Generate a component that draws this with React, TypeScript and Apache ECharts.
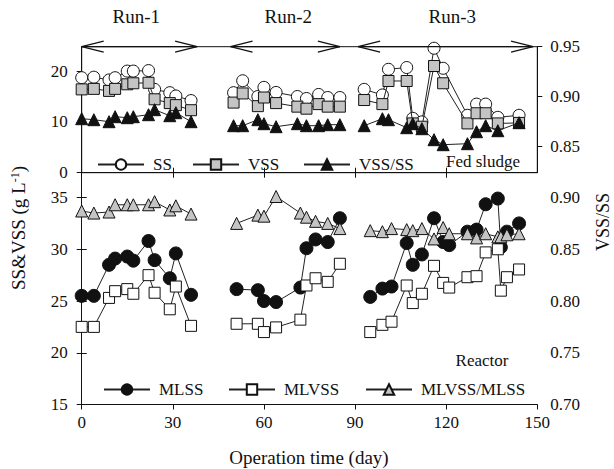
import React, { useEffect, useRef } from 'react';
import * as echarts from 'echarts';

const FONT = 'Liberation Serif';

// Run annotation
const RUN_LABELS = ['Run-1', 'Run-2', 'Run-3'];
const RUN_RANGES = [[0, 38], [49, 85], [91, 148.6]];
const RUN_LABEL_DAYS = [18, 68, 122];

// Fed sludge (top panel), per run
const fedDays = [
  [0, 4, 9, 11, 15, 17, 22, 24, 29, 31, 36],
  [50, 53, 58, 60, 64, 71, 74, 78, 81, 85],
  [93, 99, 101, 107, 109, 112, 116, 119, 127, 130, 133, 137, 144],
];
const ssValues = [
  [18.7, 18.8, 18.25, 18.7, 20.0, 20.0, 20.1, 16.4, 15.75, 15.1, 14.2],
  [15.75, 18.1, 15.0, 16.8, 15.8, 15.0, 14.6, 15.4, 14.8, 14.8],
  [16.4, 15.3, 20.35, 20.7, 10.7, 10.0, 24.5, 20.55, 11.3, 13.5, 13.5, 10.9, 11.3],
];
const vssValues = [
  [16.4, 16.5, 16.1, 16.5, 17.4, 17.6, 17.7, 14.45, 13.7, 13.3, 12.3],
  [13.8, 15.6, 13.1, 14.8, 13.7, 13.0, 12.6, 13.5, 13.0, 13.0],
  [14.3, 13.5, 18.05, 18.05, 9.7, 9.05, 21.0, 17.6, 9.7, 11.7, 11.7, 9.7, 9.8],
];
const fedRatio = [
  [0.878, 0.877, 0.875, 0.88, 0.879, 0.88, 0.882, 0.887, 0.881, 0.884, 0.875],
  [0.871, 0.871, 0.877, 0.873, 0.87, 0.873, 0.871, 0.871, 0.872, 0.872],
  [0.871, 0.878, 0.877, 0.869, 0.873, 0.868, 0.857, 0.852, 0.853, 0.865, 0.871, 0.866, 0.874],
];

// Reactor (bottom panel), per run
const reactorDays = [
  [0, 4, 9, 11, 15, 17, 22, 24, 29, 31, 36],
  [51, 58, 60, 64, 72, 74, 77, 81, 85],
  [95, 99, 102, 107, 109, 112, 116, 119, 121, 127, 130, 133, 137, 138, 140, 144],
];
const mlssValues = [
  [25.5, 25.5, 28.5, 29.1, 29.3, 28.9, 30.8, 28.95, 27.2, 29.6, 25.6],
  [26.15, 26.05, 25.0, 24.9, 26.3, 30.1, 30.95, 30.7, 33.0],
  [25.4, 26.2, 26.4, 30.6, 28.5, 29.5, 33.0, 30.7, 30.4, 31.7, 31.9, 34.35, 34.9, 30.2, 31.7, 32.5],
];
const mlvssValues = [
  [22.5, 22.5, 25.3, 25.95, 26.15, 25.7, 27.5, 25.8, 24.2, 26.4, 22.6],
  [22.8, 22.8, 22.0, 22.45, 23.2, 26.5, 27.2, 26.85, 28.6],
  [22.0, 22.7, 23.0, 26.5, 24.8, 25.7, 28.4, 26.75, 26.3, 27.3, 27.4, 29.7, 30.0, 26.0, 27.3, 28.05],
];
const reactorRatio = [
  [0.887, 0.885, 0.886, 0.893, 0.893, 0.893, 0.893, 0.896, 0.888, 0.892, 0.884],
  [0.875, 0.883, 0.882, 0.901, 0.885, 0.881, 0.877, 0.875, 0.87],
  [0.868, 0.867, 0.87, 0.869, 0.868, 0.87, 0.86, 0.871, 0.865, 0.865, 0.861, 0.865, 0.862, 0.862, 0.864, 0.865],
];

// Tick values
const xTicks = [0, 30, 60, 90, 120, 150];
const xInnerTicks = [30, 60, 90, 120];
const topLeftTicks = [0, 10, 20];
const topRightTicks = [0.85, 0.9, 0.95];
const botLeftTicks = [15, 20, 25, 30, 35];
const botRightTicks = [0.7, 0.75, 0.8, 0.85, 0.9];

const INK = '#111';
const GRAY = '#c4c4c4';

function runSeries(
  name: string,
  days: number[][],
  vals: number[][],
  xAxisIndex: number,
  yAxisIndex: number,
  symbol: string,
  size: number,
  fill: string,
  z: number
) {
  return days.map((d, r) => ({
    name,
    type: 'line',
    xAxisIndex,
    yAxisIndex,
    data: d.map((x, i) => [x, vals[r][i]]),
    symbol,
    symbolSize: size,
    showSymbol: true,
    z,
    lineStyle: { color: '#222', width: 1 },
    itemStyle: { color: fill, borderColor: INK, borderWidth: 1 },
    emphasis: { disabled: true },
  }));
}

function legendItem(name: string, left: number, top: number) {
  return {
    data: [name],
    left,
    top,
    itemWidth: 46,
    itemHeight: 13,
    selectedMode: false,
    textStyle: { fontFamily: FONT, fontSize: 17, color: INK, padding: [0, 0, 0, 4] },
  };
}

const axisCommon = {
  axisLine: { show: true, lineStyle: { color: INK, width: 1 } },
  splitLine: { show: false },
};

export default function App() {
  const ref = useRef<HTMLDivElement>(null);

  useEffect(() => {
    if (!ref.current) return;
    const chart = echarts.init(ref.current, undefined, { renderer: 'svg' });

    const labelStyle = { fontFamily: FONT, fontSize: 17, color: INK };

    const option: any = {
      animation: false,
      backgroundColor: '#fff',
      grid: [
        { left: 81.7, right: 76.7, top: 46.7, height: 126, show: true, borderColor: INK, borderWidth: 1, backgroundColor: 'transparent' },
        { left: 81.7, right: 76.7, top: 172.7, height: 231.8 },
      ],
      xAxis: [
        {
          ...axisCommon, type: 'value', gridIndex: 0, min: 0, max: 150, position: 'bottom',
          axisTick: { show: true, inside: true, length: 5, lineStyle: { color: INK }, customValues: xInnerTicks },
          axisLabel: { show: false },
        },
        {
          ...axisCommon, type: 'value', gridIndex: 1, min: 0, max: 150, position: 'bottom',
          axisTick: { show: true, inside: false, length: 5, lineStyle: { color: INK }, customValues: xTicks },
          axisLabel: { ...labelStyle, margin: 9, customValues: xTicks },
        },
        {
          ...axisCommon, type: 'value', gridIndex: 1, min: 0, max: 150, position: 'top',
          axisTick: { show: true, inside: true, length: 5, lineStyle: { color: INK }, customValues: xInnerTicks },
          axisLabel: { show: false },
        },
      ],
      yAxis: [
        {
          ...axisCommon, type: 'value', gridIndex: 0, min: 0, max: 24.8, position: 'left',
          axisTick: { show: true, length: 5, lineStyle: { color: INK }, customValues: topLeftTicks },
          axisLabel: { ...labelStyle, margin: 14, customValues: topLeftTicks },
        },
        {
          ...axisCommon, type: 'value', gridIndex: 0, min: 0.824, max: 0.95, position: 'right',
          axisTick: { show: true, length: 5, lineStyle: { color: INK }, customValues: topRightTicks },
          axisLabel: { ...labelStyle, margin: 13, customValues: topRightTicks, formatter: (v: number) => v.toFixed(2) },
        },
        {
          ...axisCommon, type: 'value', gridIndex: 1, min: 15, max: 37.4, position: 'left',
          axisTick: { show: true, length: 5, lineStyle: { color: INK }, customValues: botLeftTicks },
          axisLabel: { ...labelStyle, margin: 14, customValues: botLeftTicks },
        },
        {
          ...axisCommon, type: 'value', gridIndex: 1, min: 0.7, max: 0.924, position: 'right',
          axisTick: { show: true, length: 5, lineStyle: { color: INK }, customValues: botRightTicks },
          axisLabel: { ...labelStyle, margin: 13, customValues: botRightTicks, formatter: (v: number) => v.toFixed(2) },
        },
      ],
      legend: [
        legendItem('SS', 92, 151),
        legendItem('VSS', 187, 151),
        legendItem('VSS/SS', 298, 151),
        legendItem('MLSS', 98, 376),
        legendItem('MLVSS', 223, 376),
        legendItem('MLVSS/MLSS', 360, 376),
      ],
      series: [
        ...runSeries('SS', fedDays, ssValues, 0, 0, 'circle', 12, '#fff', 2),
        ...runSeries('VSS', fedDays, vssValues, 0, 0, 'rect', 11, GRAY, 3),
        ...runSeries('VSS/SS', fedDays, fedRatio, 0, 1, 'triangle', 12, INK, 4),
        ...runSeries('MLSS', reactorDays, mlssValues, 1, 2, 'circle', 13, INK, 2),
        ...runSeries('MLVSS', reactorDays, mlvssValues, 1, 2, 'rect', 11, '#fff', 3),
        ...runSeries('MLVSS/MLSS', reactorDays, reactorRatio, 1, 3, 'triangle', 12, GRAY, 4),
        {
          type: 'custom',
          xAxisIndex: 0,
          yAxisIndex: 0,
          clip: false,
          silent: true,
          z: 10,
          data: RUN_RANGES.map((r, i) => [r[0], r[1], i, RUN_LABEL_DAYS[i]]),
          encode: { x: [0, 1] },
          renderItem: (params: any, api: any) => {
            const s = api.coord([api.value(0), 24.8]);
            const e = api.coord([api.value(1), 24.8]);
            const m = api.coord([api.value(3), 24.8]);
            const idx = api.value(2);
            const y = s[1];
            const L = 22;
            const H = 5.5;
            const st = { stroke: INK, fill: 'none', lineWidth: 1.3 };
            return {
              type: 'group',
              children: [
                { type: 'line', shape: { x1: s[0], y1: y, x2: e[0], y2: y }, style: st },
                { type: 'polyline', shape: { points: [[s[0] + L, y - H], [s[0], y], [s[0] + L, y + H]] }, style: st },
                { type: 'polyline', shape: { points: [[e[0] - L, y - H], [e[0], y], [e[0] - L, y + H]] }, style: st },
                {
                  type: 'text', x: m[0], y: y - 30,
                  style: { text: RUN_LABELS[idx], fontFamily: FONT, fontSize: 19, fill: INK, align: 'center', verticalAlign: 'middle' },
                },
              ],
            };
          },
        },
      ],
      graphic: [
        {
          type: 'text', x: 483, y: 161,
          style: { text: 'Fed sludge', fontFamily: FONT, fontSize: 17, fill: INK, align: 'center', verticalAlign: 'middle' },
        },
        {
          type: 'text', x: 482, y: 360,
          style: { text: 'Reactor', fontFamily: FONT, fontSize: 17, fill: INK, align: 'center', verticalAlign: 'middle' },
        },
        {
          type: 'text', x: 309, y: 457,
          style: { text: 'Operation time (day)', fontFamily: FONT, fontSize: 19, fill: INK, align: 'center', verticalAlign: 'middle' },
        },
        {
          type: 'text', x: 18, y: 228, rotation: Math.PI / 2,
          style: {
            text: '{a|SS&VSS (g L}{b|-1}{a|)}',
            align: 'center', verticalAlign: 'middle',
            rich: {
              a: { fontFamily: FONT, fontSize: 19, fill: INK },
              b: { fontFamily: FONT, fontSize: 12, fill: INK, verticalAlign: 'top' },
            },
          },
        },
        {
          type: 'text', x: 603, y: 222, rotation: Math.PI / 2,
          style: { text: 'VSS/SS', fontFamily: FONT, fontSize: 18, fill: INK, align: 'center', verticalAlign: 'middle' },
        },
      ],
    };

    chart.setOption(option);
    return () => chart.dispose();
  }, []);

  return <div ref={ref} style={{ width: 614, height: 469, position: 'absolute', left: 0, top: 0 }} />;
}
